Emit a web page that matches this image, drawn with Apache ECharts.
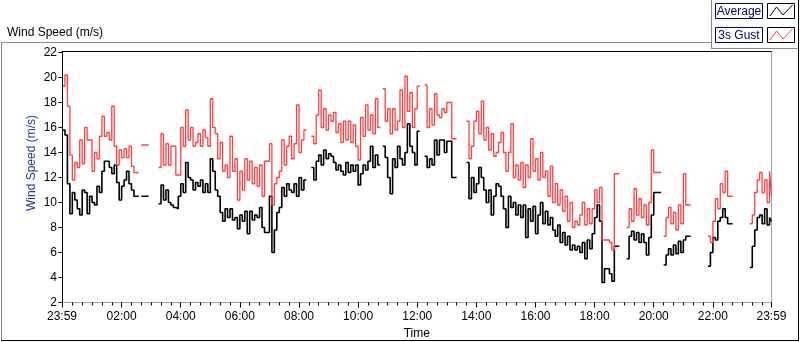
<!DOCTYPE html>
<html>
<head>
<meta charset="utf-8">
<script src="https://cdn.jsdelivr.net/npm/echarts@6/dist/echarts.min.js"></script>
<style>
  html, body { margin: 0; padding: 0; background: #fff; }
  #main { width: 800px; height: 342px; }
</style>
</head>
<body>
<div id="main"></div>
<script type="text/javascript">
    // one value every 5 minutes from 00:00, last one at 23:59; null = no data
    var stepMinutes = 5;
    var seriesNames = ['Average', '3s Gust'];
    var avgSpeed = [
        15.8, 15.4, 11.5, 9.1, 10.8, 10.2, 9.5, 9.0, 11.0, 10.8, 9.1, 10.5,
        10.0, 9.8, 11.3, 10.8, 12.5, 13.3, 13.3, 12.8, 12.3, 13.0, 11.6, 10.2,
        11.3, 11.8, 12.5, 11.5, 11.0, 10.5, 10.5, null, 10.5, 10.5, 10.5, null,
        null, null, null, 9.9, 11.4, 10.2, 11.0, 10.0, 9.8, 9.6, 9.5, 10.5,
        11.5, 10.8, 13.2, 12.0, 11.8, 11.0, 11.6, 11.3, 11.8, 10.8, 11.5, 10.8,
        13.5, 12.5, 11.0, 10.5, 9.2, 8.5, 9.5, 8.8, 9.5, 8.6, 8.8, 7.9,
        9.0, 8.5, 9.3, 7.5, 9.3, 8.6, 9.0, 8.8, 9.6, 8.0, 7.6, 7.6,
        10.5, 6.0, 7.8, 9.2, 9.6, 11.2, 10.5, 11.5, 11.0, 10.8, 11.5, 10.5,
        12.0, 11.0, 11.8, null, null, 12.8, 11.8, 13.3, 13.8, 13.0, 14.2, 13.5,
        13.9, 13.7, 13.2, 12.6, 13.0, 12.5, 12.2, 13.2, 12.4, 13.0, 12.5, 13.0,
        11.4, 12.3, 13.0, 12.6, 13.3, 14.5, 12.8, 13.8, 13.0, null, 14.5, 13.6,
        12.0, 10.7, 13.5, 12.8, 14.5, 13.5, 13.0, 14.0, 16.3, 14.5, 14.0, 13.0,
        15.7, null, null, 13.7, 12.8, 13.5, 13.0, 15.0, 13.8, 15.0, 15.0, 14.0,
        14.9, 14.9, 12.0, 12.0, null, null, null, null, 13.2, 10.3, 12.0, 10.8,
        11.5, 12.8, 12.0, 11.0, 10.0, 11.0, 9.0, 10.5, 11.5, 11.3, 10.5, 9.5,
        8.0, 10.5, 9.6, 10.0, 9.0, 9.8, 8.8, 9.8, 7.2, 9.5, 8.5, 9.7,
        7.5, 9.0, 10.0, 8.3, 9.3, 8.2, 8.8, 7.8, 7.3, 8.2, 6.8, 7.6,
        6.6, 7.3, 6.2, 6.6, 6.2, 6.5, 6.0, 6.8, 5.5, 7.0, 6.3, 7.5,
        8.8, 9.8, 8.5, 3.6, 4.7, 4.7, 4.3, 3.7, 6.5, 6.5, null, null,
        null, 5.5, 7.3, 7.7, 7.0, 7.6, 6.8, 7.5, 6.8, 5.8, 7.2, 9.0,
        10.8, 10.8, 10.8, null, 5.0, 5.8, 6.3, 5.8, 6.6, 5.9, 6.9, 6.0,
        7.0, 7.3, 7.3, null, null, null, null, null, null, null, 4.9, 6.0,
        7.2, 7.0, 8.5, 8.8, 9.5, 8.8, 8.3, 8.3, null, null, null, null,
        null, null, null, 4.8, 6.5, 7.8, 8.8, 9.0, 8.3, 9.5, 8.2, 8.8,
        8.5
    ];
    var gustSpeed = [
        19.3, 20.2, 17.7, 13.8, 11.8, 13.2, 12.8, 15.0, 13.1, 16.0, 15.0, 15.0,
        12.5, 14.0, 13.5, 15.3, 16.9, 15.3, 15.6, 15.0, 17.7, 14.5, 13.0, 14.2,
        13.6, 14.3, 13.6, 14.5, 12.9, 12.4, 12.4, null, 14.6, 14.6, 14.6, null,
        null, null, null, 12.8, 15.5, 13.0, 14.7, 13.0, 14.5, 14.5, 12.2, 12.2,
        16.0, 14.5, 17.4, 15.0, 16.0, 14.5, 14.8, 15.5, 14.5, 15.8, 15.2, 14.5,
        18.3, 16.0, 15.5, 13.5, 14.8, 12.5, 13.0, 12.0, 15.3, 12.5, 13.5, 10.2,
        12.5, 11.0, 13.5, 11.8, 13.3, 11.5, 12.8, 11.3, 13.0, 10.5, 13.3, 13.3,
        14.7, 9.8, 11.5, 12.0, 12.5, 15.0, 13.0, 14.5, 15.3, 13.5, 14.7, 17.8,
        14.0, 15.0, 15.8, null, null, 15.3, 14.7, 17.0, 19.0, 16.0, 17.5, 15.8,
        17.0, 16.5, 17.2, 15.6, 16.3, 14.8, 16.5, 15.0, 16.5, 14.8, 16.2, 14.5,
        13.4, 16.8, 15.3, 17.8, 15.8, 17.0, 15.5, 18.3, 16.0, null, 19.1, 16.5,
        17.5, 15.5, 17.5, 15.8, 16.5, 19.0, 16.0, 20.1, 17.3, 18.8, 16.0, 17.5,
        19.3, null, null, 19.4, 16.0, 17.5, 16.2, 18.7, 17.0, 16.8, 17.5, 17.2,
        18.0, 18.0, 15.1, 15.1, null, null, null, null, 16.5, 13.5, 14.5, 16.5,
        17.3, 15.5, 18.1, 15.0, 16.0, 14.2, 15.5, 13.7, 14.0, 14.8, 15.6, 14.0,
        12.5, 14.0, 16.3, 12.0, 13.0, 11.8, 13.2, 11.2, 13.0, 12.0, 15.1, 12.5,
        13.5, 11.8, 14.0, 12.0, 12.5, 10.5, 12.9, 10.0, 11.5, 9.8, 11.0, 9.3,
        10.5, 8.5, 10.0, 8.0, 8.5, 8.2, 9.0, 10.0, 8.2, 9.5, 8.3, 9.5,
        11.0, 10.0, 11.2, 7.0, 7.0, 7.0, 6.8, 6.2, 12.3, 12.3, null, null,
        null, 8.0, 9.5, 8.5, 11.1, 9.0, 10.3, 8.8, 9.8, 8.2, 10.0, 14.2,
        12.4, 12.4, 12.4, null, 7.3, 8.8, 9.6, 8.3, 9.2, 7.8, 9.8, 8.3,
        12.3, 9.8, 9.8, null, null, null, null, null, null, null, 7.3, 6.8,
        8.5, 10.3, 9.5, 11.5, 10.8, 12.5, 10.5, 10.5, null, null, null, null,
        null, null, null, 8.3, 9.0, 10.8, 11.8, 12.4, 10.8, 11.8, 10.0, 12.5,
        10.5
    ];
    // axis is in minutes after midnight, from 23:59 the day before to 23:59
    var labelMinutes = [-1, 120, 240, 360, 480, 600, 720, 840, 960, 1080, 1200, 1320, 1439];
    var tickLabels = ['23:59', '02:00', '04:00', '06:00', '08:00', '10:00', '12:00',
                      '14:00', '16:00', '18:00', '20:00', '22:00', '23:59'];

    var minorTicks = [-1];
    for (var t = 20; t < 1439; t += 20) minorTicks.push(t);
    minorTicks.push(1439);

    function toPairs(arr) {
        return arr.map(function (v, i) {
            return [Math.min(i * stepMinutes, 1439), v];
        });
    }

    var font = 'Liberation Sans';
    var gray = '#a0a0a0';
    var myChart = echarts.init(document.getElementById('main'), null, { renderer: 'canvas' });
    var option = {
        animation: false,
        title: {
            text: 'Wind Speed (m/s)',
            left: 2,
            top: 22,
            textStyle: { fontFamily: font, fontSize: 12, fontWeight: 'normal', color: '#000' }
        },
        grid: { left: 62, right: 28.5, top: 52.5, bottom: 39.5, outerBoundsMode: 'none' },
        xAxis: [{
            type: 'value',
            min: -1,
            max: 1439,
            name: 'Time',
            nameLocation: 'middle',
            nameGap: 25,
            nameTextStyle: { fontFamily: font, fontSize: 12, color: '#000' },
            axisLine: { lineStyle: { color: gray } },
            axisTick: { customValues: minorTicks, length: 3, lineStyle: { color: '#000' } },
            axisLabel: {
                customValues: labelMinutes,
                margin: 8,
                fontFamily: font,
                fontSize: 12,
                color: '#000',
                formatter: function (v) { return tickLabels[labelMinutes.indexOf(v)]; }
            },
            splitLine: { show: false }
        }, {
            // longer ticks under the labels
            type: 'value',
            position: 'bottom',
            min: -1,
            max: 1439,
            axisLine: { show: false },
            axisTick: { customValues: labelMinutes, length: 5, lineStyle: { color: '#000' } },
            axisLabel: { show: false },
            splitLine: { show: false }
        }],
        yAxis: {
            type: 'value',
            min: 2,
            max: 22,
            interval: 2,
            axisLine: { show: true, lineStyle: { color: '#000' } },
            axisTick: { show: true, length: 4, lineStyle: { color: '#000' } },
            axisLabel: { margin: 5, fontFamily: font, fontSize: 12, color: '#000' },
            splitLine: { show: false }
        },
        graphic: [
            // outer frame
            { type: 'line', shape: { x1: 1.5, y1: 42.5, x2: 1.5, y2: 341 }, style: { stroke: '#8a8a8a', lineWidth: 1 } },
            { type: 'line', shape: { x1: 1, y1: 42.5, x2: 712, y2: 42.5 }, style: { stroke: '#8a8a8a', lineWidth: 1 } },
            { type: 'line', shape: { x1: 1, y1: 340.5, x2: 799, y2: 340.5 }, style: { stroke: '#000', lineWidth: 1 } },
            { type: 'line', shape: { x1: 798.5, y1: 0, x2: 798.5, y2: 341 }, style: { stroke: '#000', lineWidth: 1 } },
            { type: 'line', shape: { x1: 711.5, y1: 0, x2: 711.5, y2: 49 }, style: { stroke: '#8a8a8a', lineWidth: 1 } },
            { type: 'line', shape: { x1: 711, y1: 48.5, x2: 798, y2: 48.5 }, style: { stroke: '#8a8a8a', lineWidth: 1 } },
            // plot frame top and right
            { type: 'line', shape: { x1: 61.5, y1: 51.5, x2: 772, y2: 51.5 }, style: { stroke: '#000', lineWidth: 1 } },
            { type: 'line', shape: { x1: 771.5, y1: 51.5, x2: 771.5, y2: 303 }, style: { stroke: gray, lineWidth: 1 } },
            // y axis name
            {
                type: 'text', x: 32, y: 163, rotation: Math.PI / 2,
                style: { text: 'Wind Speed (m/s)', fill: '#1e3c96', font: '12px ' + font, align: 'center', verticalAlign: 'middle' }
            },
            // legend
            { type: 'rect', shape: { x: 715.5, y: 3.5, width: 47, height: 15 }, style: { fill: '#fff', stroke: '#000080', lineWidth: 1 } },
            { type: 'text', x: 739, y: 11.5, style: { text: seriesNames[0], fill: '#000080', font: '12px ' + font, align: 'center', verticalAlign: 'middle' } },
            { type: 'rect', shape: { x: 767.5, y: 3.5, width: 27, height: 15 }, style: { fill: '#fff', stroke: '#000', lineWidth: 1 } },
            { type: 'polyline', shape: { points: [[770, 16], [776.5, 7], [783, 15], [792.5, 5]] }, style: { stroke: '#000', fill: null, lineWidth: 1 } },
            { type: 'rect', shape: { x: 715.5, y: 27.5, width: 47, height: 15 }, style: { fill: '#fff', stroke: '#000080', lineWidth: 1 } },
            { type: 'text', x: 739, y: 35.5, style: { text: seriesNames[1], fill: '#000080', font: '12px ' + font, align: 'center', verticalAlign: 'middle' } },
            { type: 'rect', shape: { x: 767.5, y: 27.5, width: 27, height: 15 }, style: { fill: '#fff', stroke: '#000', lineWidth: 1 } },
            { type: 'polyline', shape: { points: [[770, 40], [776.5, 31], [783, 39], [792.5, 29]] }, style: { stroke: '#ff4040', fill: null, lineWidth: 1 } }
        ],
        series: [{
            name: seriesNames[0],
            type: 'line',
            step: 'end',
            showSymbol: false,
            connectNulls: false,
            data: toPairs(avgSpeed),
            lineStyle: { color: '#000', width: 1.6 },
            itemStyle: { color: '#000' }
        }, {
            name: seriesNames[1],
            type: 'line',
            step: 'end',
            showSymbol: false,
            connectNulls: false,
            data: toPairs(gustSpeed),
            lineStyle: { color: '#ff4040', width: 1.3 },
            itemStyle: { color: '#ff4040' }
        }]
    };
    myChart.setOption(option);
</script>
</body>
</html>
